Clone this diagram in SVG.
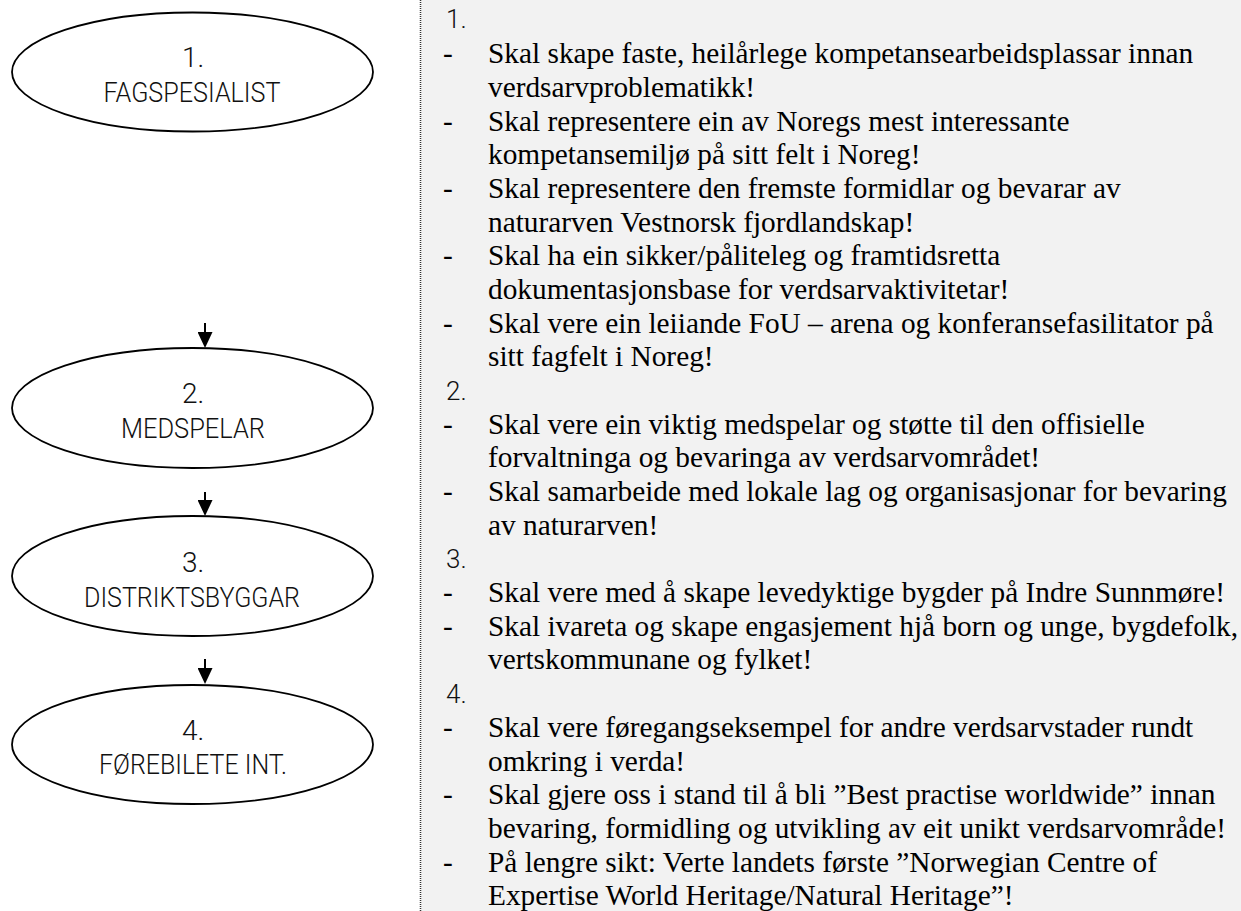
<svg xmlns="http://www.w3.org/2000/svg" width="1241" height="911" viewBox="0 0 1241 911">
<defs>
<style>
.node ellipse{fill:#fff;stroke:#000;stroke-width:1.8}
.lbl{font-family:Roboto,"Liberation Sans",sans-serif;font-weight:300;font-size:28px;fill:#111;text-anchor:middle}
.num{font-family:Roboto,"Liberation Sans",sans-serif;font-weight:300;font-size:26px;fill:#111}
.t{font-family:"Liberation Serif","Times New Roman",serif;font-size:29.33px;fill:#000}
.conn line{stroke:#000;stroke-width:2}
</style>
<marker id="ah" viewBox="0 0 16 15" refX="14" refY="7.5" markerWidth="16" markerHeight="15" markerUnits="userSpaceOnUse" orient="auto">
<path d="M0,0 L16,7.5 L0,15 Z" fill="#000"/>
</marker>
</defs>
<rect x="0" y="0" width="1241" height="911" fill="#fff"/>
<rect x="421" y="0" width="820" height="911" fill="#f2f2f2"/>
<line x1="420.5" y1="0" x2="420.5" y2="911" stroke="#333" stroke-width="1.5" stroke-dasharray="1 1"/>

<g id="node1" class="node">
<ellipse cx="192.5" cy="72" rx="180.5" ry="59.5"/>
<text class="lbl" x="193" y="67">1.</text>
<text class="lbl" x="192" y="102" textLength="177" lengthAdjust="spacingAndGlyphs">FAGSPESIALIST</text>
</g>
<g id="node2" class="node">
<ellipse cx="192.5" cy="408" rx="180.5" ry="60"/>
<text class="lbl" x="193" y="403">2.</text>
<text class="lbl" x="193" y="438" textLength="144" lengthAdjust="spacingAndGlyphs">MEDSPELAR</text>
</g>
<g id="node3" class="node">
<ellipse cx="192.5" cy="576" rx="180.5" ry="60"/>
<text class="lbl" x="193" y="572">3.</text>
<text class="lbl" x="192" y="607" textLength="216" lengthAdjust="spacingAndGlyphs">DISTRIKTSBYGGAR</text>
</g>
<g id="node4" class="node">
<ellipse cx="192.5" cy="744.5" rx="180.5" ry="59.5"/>
<text class="lbl" x="193" y="740">4.</text>
<text class="lbl" x="193" y="774" textLength="188" lengthAdjust="spacingAndGlyphs">FØREBILETE INT.</text>
</g>

<g id="connectors" class="conn">
<line x1="205" y1="323" x2="205" y2="346" marker-end="url(#ah)"/>
<line x1="205" y1="492" x2="205" y2="514" marker-end="url(#ah)"/>
<line x1="205" y1="659" x2="205" y2="682" marker-end="url(#ah)"/>
</g>

<g id="goals">
<text class="num" x="446" y="28">1.</text>
<text class="t" x="443" y="63.2">-</text><text class="t" x="488" y="63.2">Skal skape faste, heilårlege kompetansearbeidsplassar innan</text>
<text class="t" x="488" y="96.9">verdsarvproblematikk!</text>
<text class="t" x="443" y="130.5">-</text><text class="t" x="488" y="130.5">Skal representere ein av Noregs mest interessante</text>
<text class="t" x="488" y="164.2">kompetansemiljø på sitt felt i Noreg!</text>
<text class="t" x="443" y="197.9">-</text><text class="t" x="488" y="197.9">Skal representere den fremste formidlar og bevarar av</text>
<text class="t" x="488" y="231.6">naturarven Vestnorsk fjordlandskap!</text>
<text class="t" x="443" y="265.3">-</text><text class="t" x="488" y="265.3">Skal ha ein sikker/påliteleg og framtidsretta</text>
<text class="t" x="488" y="298.9">dokumentasjonsbase for verdsarvaktivitetar!</text>
<text class="t" x="443" y="332.6">-</text><text class="t" x="488" y="332.6">Skal vere ein leiiande FoU – arena og konferansefasilitator på</text>
<text class="t" x="488" y="366.3">sitt fagfelt i Noreg!</text>
<text class="num" x="446" y="400">2.</text>
<text class="t" x="443" y="433.7">-</text><text class="t" x="488" y="433.7">Skal vere ein viktig medspelar og støtte til den offisielle</text>
<text class="t" x="488" y="467.3">forvaltninga og bevaringa av verdsarvområdet!</text>
<text class="t" x="443" y="501">-</text><text class="t" x="488" y="501">Skal samarbeide med lokale lag og organisasjonar for bevaring</text>
<text class="t" x="488" y="534.7">av naturarven!</text>
<text class="num" x="446" y="568.4">3.</text>
<text class="t" x="443" y="602.1">-</text><text class="t" x="488" y="602.1">Skal vere med å skape levedyktige bygder på Indre Sunnmøre!</text>
<text class="t" x="443" y="635.7">-</text><text class="t" x="488" y="635.7">Skal ivareta og skape engasjement hjå born og unge, bygdefolk,</text>
<text class="t" x="488" y="669.4">vertskommunane og fylket!</text>
<text class="num" x="446" y="703.1">4.</text>
<text class="t" x="443" y="736.8">-</text><text class="t" x="488" y="736.8">Skal vere føregangseksempel for andre verdsarvstader rundt</text>
<text class="t" x="488" y="770.5">omkring i verda!</text>
<text class="t" x="443" y="804.1">-</text><text class="t" x="488" y="804.1">Skal gjere oss i stand til å bli ”Best practise worldwide” innan</text>
<text class="t" x="488" y="837.8">bevaring, formidling og utvikling av eit unikt verdsarvområde!</text>
<text class="t" x="443" y="871.5">-</text><text class="t" x="488" y="871.5">På lengre sikt: Verte landets første ”Norwegian Centre of</text>
<text class="t" x="488" y="905.2">Expertise World Heritage/Natural Heritage”!</text>
</g>
</svg>
